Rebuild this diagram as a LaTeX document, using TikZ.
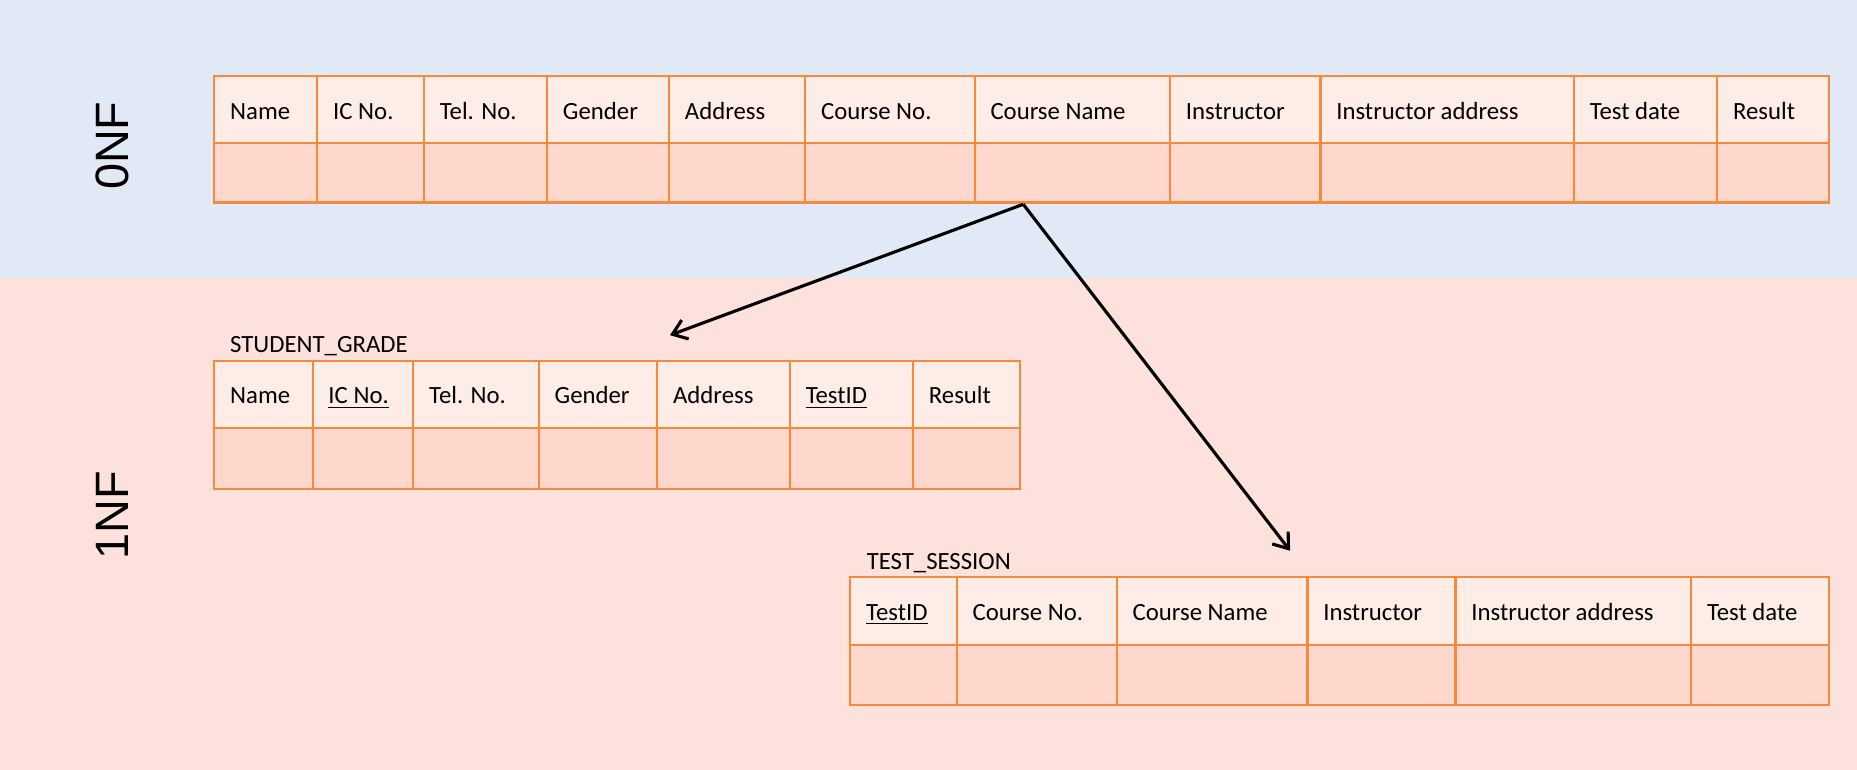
\documentclass[tikz,border=0pt]{standalone}
\usepackage{fontspec}
\setmainfont{Carlito}
\newfontfamily\nfsans{Liberation Sans}
\usetikzlibrary{arrows.meta}

\definecolor{bgblue}{RGB}{225,233,246}
\definecolor{bgpink}{RGB}{252,225,221}
\definecolor{cellhead}{RGB}{254,236,230}
\definecolor{cellbody}{RGB}{254,216,204}
\definecolor{cellline}{RGB}{247,137,60}

\tikzset{
  headcell/.style={draw=cellline, fill=cellhead, line width=1pt},
  bodycell/.style={draw=cellline, fill=cellbody, line width=1pt},
  celltext/.style={anchor=base west, inner sep=0pt, font=\fontsize{11.9}{14}\selectfont},
  nflabel/.style={rotate=90, inner sep=0pt, font=\nfsans\fontsize{22.5}{26}\selectfont},
  link/.style={line width=1.5pt, -{Straight Barb[length=2.3mm,width=3.4mm]}}
}

\begin{document}
\begin{tikzpicture}[x=0.02cm, y=-0.02cm]
        \fill [bgblue] (0,0) rectangle (1568,235);
        \fill [bgpink] (0,235) rectangle (1568,650);
        \useasboundingbox (0,0) rectangle (1568,650);

        \node [nflabel] (nf0) at (94.5,123) {0NF};
        \node [nflabel] (nf1) at (94.5,435) {1NF};

        % 0NF table
        \foreach \l/\r/\t [count=\i] in {181/268/Name, 268/358/IC No., 358/462/Tel. No., 462/565/Gender,
                565/680/Address, 680/823/Course No., 823/988/Course Name, 988/1115/Instructor,
                1115/1329/Instructor address, 1329/1450/Test date, 1450/1544/Result} {
            \draw [headcell] (\l,64) rectangle (\r,121);
            \draw [bodycell] (\l,121) rectangle (\r,171);
            \node [celltext] (raw\i) at (\l+13,100.5) {\t};
        }

        % STUDENT_GRADE
        \node [celltext] (sgtitle) at (194,298) {STUDENT\_GRADE};
        \foreach \l/\r/\t [count=\i] in {181/264/Name, 264/349/\underline{IC No.}, 349/455/Tel. No.,
                455/555/Gender, 555/667/Address, 667/771/\underline{TestID}, 771/861/Result} {
            \draw [headcell] (\l,304.5) rectangle (\r,361.5);
            \draw [bodycell] (\l,361.5) rectangle (\r,412.5);
            \node [celltext] (sg\i) at (\l+13,341) {\t};
        }

        % TEST_SESSION
        \node [celltext] (tstitle) at (731.5,480.5) {TEST\_SESSION};
        \foreach \l/\r/\t [count=\i] in {718/808/\underline{TestID}, 808/943/Course No., 943/1104/Course Name,
                1104/1229/Instructor, 1229/1428/Instructor address, 1428/1544/Test date} {
            \draw [headcell] (\l,487.5) rectangle (\r,544.5);
            \draw [bodycell] (\l,544.5) rectangle (\r,595);
            \node [celltext] (ts\i) at (\l+13,524) {\t};
        }

        \coordinate (fork) at (864,172.5);
        \coordinate (sgtip) at (565.7,283);
        \coordinate (tstip) at (1089.3,465);
        \draw [link] (fork) -- (sgtip);
        \draw [link] (fork) -- (tstip);
    \end{tikzpicture}
\end{document}
